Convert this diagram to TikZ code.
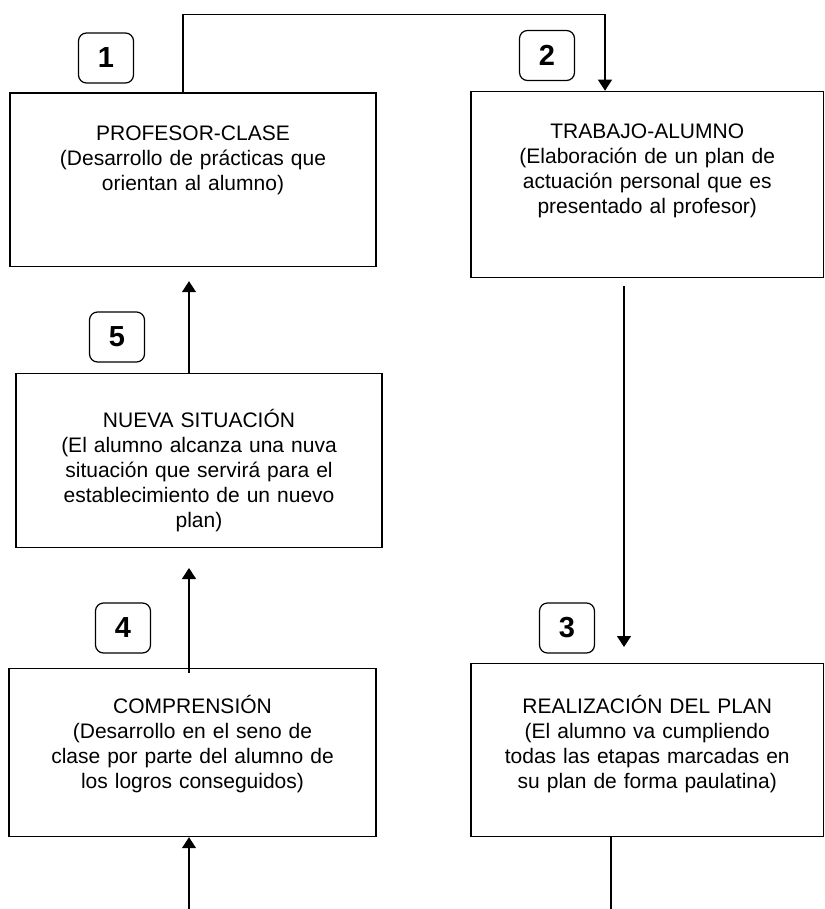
\documentclass[tikz,border=0pt]{standalone}
\usepackage{fontspec}
\setmainfont{Liberation Sans}
\usetikzlibrary{arrows.meta}

\tikzset{
  caja/.style={draw, line width=0.6pt, inner sep=0pt, align=center, anchor=north,
    font=\fontsize{10.5}{12.5}\selectfont},
  numero/.style={draw, line width=0.6pt, rounded corners=4pt, minimum width=27.5pt,
    minimum height=25pt, inner sep=0pt, font=\fontsize{14.5}{16}\selectfont\bfseries},
  flecha/.style={-{Triangle[length=5.5pt,width=7pt]}}
}

\begin{document}
\begin{tikzpicture}[x=0.5pt,y=-0.5pt,line width=0.65pt]
  \useasboundingbox (0,0) rectangle (824,909);
  \node[caja, text width=183pt, text height=23.75pt, text depth=63pt] (profesor) at (193,92.5)
    {PROFESOR-CLASE\\(Desarrollo de prácticas que\\orientan al alumno)};
  \node[caja, text width=176.25pt, text height=23.65pt, text depth=69.5pt] (trabajo) at (647.25,90.7)
    {TRABAJO-ALUMNO\\(Elaboración de un plan de\\actuación personal que es\\presentado al profesor)};
  \node[caja, text width=176.25pt, text height=24.85pt, text depth=61.65pt] (realizacion) at (647.25,663)
    {REALIZACIÓN DEL PLAN\\(El alumno va cumpliendo\\todas las etapas marcadas en\\su plan de forma paulatina)};
  \node[caja, text width=183.5pt, text height=22.5pt, text depth=61.5pt] (comprension) at (192.5,668)
    {COMPRENSIÓN\\(Desarrollo en el seno de\\clase por parte del alumno de\\los logros conseguidos)};
  \node[caja, text width=183pt, text height=27pt, text depth=60.15pt] (nueva) at (199,372.5)
    {NUEVA SITUACIÓN\\(El alumno alcanza una nuva\\situación que servirá para el\\establecimiento de un nuevo\\plan)};

  \node[numero] (n1) at (106,58) {1};
  \node[numero] (n2) at (547,55.5) {2};
  \node[numero] (n3) at (567,628) {3};
  \node[numero] (n4) at (123,628) {4};
  \node[numero] (n5) at (117,337) {5};

  \coordinate (salida) at (611,909);
  \coordinate (entrada) at (189,909);

  \draw[flecha] (183,0 |- profesor.north) |- (605,14.7) -- (605,0 |- trabajo.north);
  \draw[flecha, shorten <=4pt, shorten >=8pt] (624,0 |- trabajo.south) -- (624,0 |- realizacion.north);
  \draw (611,0 |- realizacion.south) -- (salida);
  \draw[flecha] (entrada) -- (189,0 |- comprension.south);
  \draw[flecha, shorten <=-2.5pt, shorten >=10pt] (189,0 |- comprension.north) -- (189,0 |- nueva.south);
  \draw[flecha, shorten >=7pt] (189,0 |- nueva.north) -- (189,0 |- profesor.south);
\end{tikzpicture}
\end{document}
